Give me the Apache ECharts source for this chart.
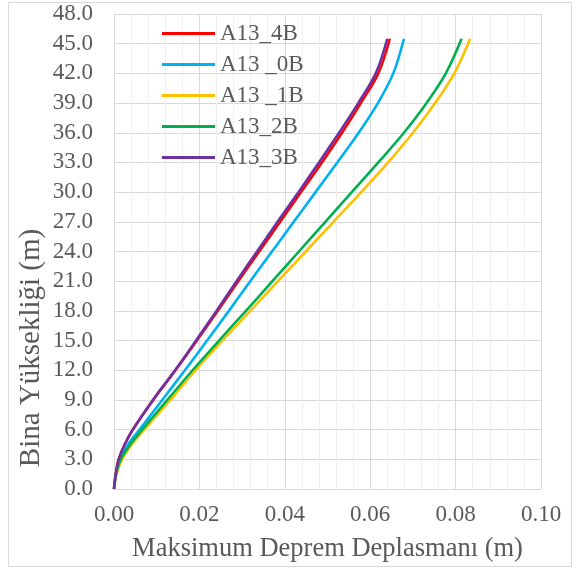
<!DOCTYPE html>
<html>
<head>
<meta charset="utf-8">
<script src="https://cdn.jsdelivr.net/npm/echarts@6/dist/echarts.min.js"></script>
<style>
  html, body { margin: 0; padding: 0; background: #ffffff; }
  #chart { width: 577px; height: 571px; }
</style>
</head>
<body>
<div id="chart"></div>
<script>
// Story heights (m) at which the peak displacements were sampled
const heights = [0, 1.5, 3, 4.5, 6, 9, 12, 15, 18, 21, 24, 27, 30, 33, 36, 39, 42, 45.5];

// Maximum earthquake displacement (m) for each model
const seriesNames = ['A13_4B', 'A13 _0B', 'A13 _1B', 'A13_2B', 'A13_3B'];
const dispA13_4B = [0, 0.0004, 0.0011, 0.0025, 0.0044, 0.0092, 0.0144, 0.0194, 0.0243, 0.0291, 0.0340, 0.0389, 0.0438, 0.0487, 0.0534, 0.0578, 0.0619, 0.0646];
const dispA13_0B = [0, 0.0005, 0.0015, 0.0033, 0.0060, 0.0113, 0.0166, 0.0218, 0.0269, 0.0319, 0.0370, 0.0421, 0.0472, 0.0523, 0.0573, 0.0618, 0.0654, 0.0679];
const dispA13_1B = [0, 0.0006, 0.0019, 0.0042, 0.0071, 0.0132, 0.0191, 0.0254, 0.0319, 0.0384, 0.0449, 0.0514, 0.0579, 0.0642, 0.0700, 0.0752, 0.0797, 0.0834];
const dispA13_2B = [0, 0.0005, 0.0016, 0.0038, 0.0066, 0.0125, 0.0184, 0.0246, 0.0309, 0.0371, 0.0433, 0.0495, 0.0557, 0.0619, 0.0679, 0.0732, 0.0777, 0.0814];
const dispA13_3B = [0, 0.0004, 0.0011, 0.0025, 0.0044, 0.0091, 0.0143, 0.0192, 0.0240, 0.0287, 0.0335, 0.0383, 0.0432, 0.0480, 0.0527, 0.0572, 0.0613, 0.0640];

const seriesValues = [dispA13_4B, dispA13_0B, dispA13_1B, dispA13_2B, dispA13_3B];
const seriesColors = ['#FF0000', '#00B0F0', '#FFC000', '#00B050', '#7030A0'];

const FONT = '"Liberation Serif", "Times New Roman", serif';
const TEXT_COLOR = '#595959';

const chart = echarts.init(document.getElementById('chart'), null, { renderer: 'canvas' });

chart.setOption({
  backgroundColor: '#ffffff',
  animation: false,
  grid: { left: 114, right: 36, top: 14, bottom: 82, containLabel: false },
  legend: {
    left: 162,
    top: 22,
    padding: 0,
    orient: 'vertical',
    icon: 'rect',
    itemWidth: 53,
    itemHeight: 3,
    itemGap: 8,
    textStyle: { fontFamily: FONT, fontSize: 23, color: TEXT_COLOR },
    data: seriesNames
  },
  xAxis: {
    type: 'value',
    min: 0,
    max: 0.1,
    interval: 0.02,
    name: 'Maksimum Deprem Deplasmanı (m)',
    nameLocation: 'middle',
    nameGap: 47,
    nameTextStyle: { fontFamily: FONT, fontSize: 26.5, color: TEXT_COLOR },
    axisLine: { show: true, lineStyle: { color: '#d9d9d9', width: 1 } },
    axisTick: { show: false },
    axisLabel: {
      margin: 14,
      fontFamily: FONT,
      fontSize: 23,
      color: TEXT_COLOR,
      formatter: v => v.toFixed(2)
    },
    splitLine: { show: true, lineStyle: { color: '#d9d9d9', width: 1 } },
    minorTick: { show: false, splitNumber: 5 },
    minorSplitLine: { show: true, lineStyle: { color: '#efefef', width: 1 } }
  },
  yAxis: {
    type: 'value',
    min: 0,
    max: 48,
    interval: 3,
    axisLine: { show: true, lineStyle: { color: '#d9d9d9', width: 1 } },
    axisTick: { show: false },
    axisLabel: {
      margin: 21,
      fontFamily: FONT,
      fontSize: 23,
      color: TEXT_COLOR,
      formatter: v => v.toFixed(1)
    },
    splitLine: { show: true, lineStyle: { color: '#d9d9d9', width: 1 } }
  },
  graphic: [
    {
      type: 'rect',
      silent: true,
      shape: { x: 8.5, y: 2.5, width: 563, height: 564 },
      style: { fill: 'none', stroke: '#d9d9d9', lineWidth: 1 }
    },
    {
      type: 'text',
      x: 31,
      y: 348,
      rotation: Math.PI / 2,
      style: {
        text: 'Bina Yüksekliği (m)',
        font: '29px ' + FONT,
        fill: TEXT_COLOR,
        textAlign: 'center',
        textVerticalAlign: 'middle'
      }
    }
  ],
  series: seriesNames.map((name, i) => ({
    name: name,
    type: 'line',
    data: heights.map((h, k) => [seriesValues[i][k], h]),
    smooth: 0.35,
    symbol: 'none',
    showSymbol: false,
    color: seriesColors[i],
    lineStyle: { color: seriesColors[i], width: 2.6 },
    z: 2 + i
  }))
});
</script>
</body>
</html>
